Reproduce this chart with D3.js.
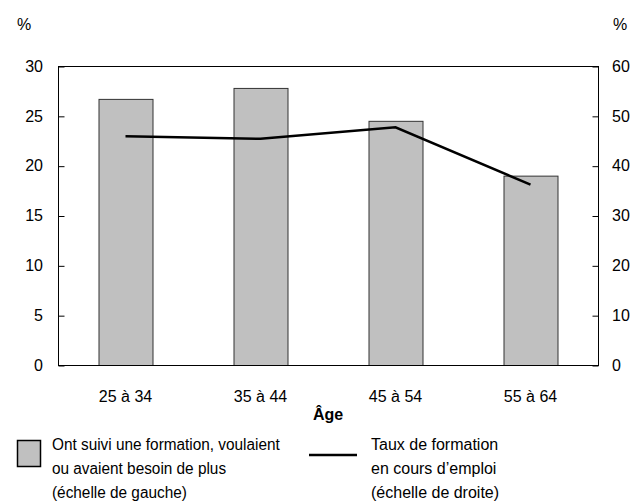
<!DOCTYPE html>
<html>
<head>
<meta charset="utf-8">
<script src="https://cdn.jsdelivr.net/npm/d3@7"></script>
<style>
  body { margin: 0; background: #fff; }
  text { font-family: "Liberation Sans", Arial, sans-serif; fill: #000; font-size: 16px; }
</style>
</head>
<body>
<div id="chart"></div>
<script>
var categories = ["25 à 34", "35 à 44", "45 à 54", "55 à 64"];
var barValues = [26.7, 27.8, 24.5, 19.0];   // échelle de gauche
var lineValues = [45.9, 45.4, 47.7, 36.2];  // échelle de droite
var leftTicks = [0, 5, 10, 15, 20, 25, 30];
var rightTicks = [0, 10, 20, 30, 40, 50, 60];

var W = 633, H = 504;
var margin = { top: 66, left: 58, right: 35, bottom: 139 };
var width = W - margin.left - margin.right,
    height = H - margin.top - margin.bottom;

var svg = d3.select("#chart").append("svg")
  .attr("width", W)
  .attr("height", H);

var g = svg.append("g")
  .attr("transform", "translate(" + margin.left + "," + margin.top + ")");

var x = d3.scaleBand().domain(categories).range([0, width]).paddingInner(0.6).paddingOuter(0.3);
var yLeft = d3.scaleLinear().domain([0, 30]).range([height, 0]);
var yRight = d3.scaleLinear().domain([0, 60]).range([height, 0]);

// bars
g.selectAll(".bar")
  .data(barValues)
  .enter().append("rect")
  .attr("class", "bar")
  .attr("x", function(d, i) { return x(categories[i]) + 0.5; })
  .attr("y", function(d) { return yLeft(d) + 0.5; })
  .attr("width", x.bandwidth())
  .attr("height", function(d) { return height - yLeft(d); })
  .attr("fill", "#c0c0c0")
  .attr("stroke", "#333")
  .attr("stroke-width", 1);

// frame
g.append("rect")
  .attr("x", 0.5).attr("y", 0.5)
  .attr("width", width).attr("height", height)
  .attr("fill", "none")
  .attr("stroke", "#000")
  .attr("stroke-width", 1);

// left axis, ticks pointing inward
var leftAxis = g.append("g")
  .attr("transform", "translate(0.5,0.5)")
  .call(d3.axisRight(yLeft).tickValues(leftTicks).tickSize(6).tickFormat(""));
leftAxis.select(".domain").remove();
g.selectAll(".ltick")
  .data(leftTicks)
  .enter().append("text")
  .attr("x", -15)
  .attr("y", function(d) { return yLeft(d); })
  .attr("dy", "0.36em")
  .attr("text-anchor", "end")
  .text(function(d) { return d; });

// right axis
var rightAxis = g.append("g")
  .attr("transform", "translate(" + (width + 0.5) + ",0.5)")
  .call(d3.axisLeft(yRight).tickValues(rightTicks).tickSize(6).tickFormat(""));
rightAxis.select(".domain").remove();
g.selectAll(".rtick")
  .data(rightTicks)
  .enter().append("text")
  .attr("x", width + 14)
  .attr("y", function(d) { return yRight(d); })
  .attr("dy", "0.36em")
  .attr("text-anchor", "start")
  .text(function(d) { return d; });

// line
var line = d3.line()
  .x(function(d, i) { return x(categories[i]) + x.bandwidth() / 2; })
  .y(function(d) { return yRight(d); });

g.append("path")
  .datum(lineValues)
  .attr("d", line)
  .attr("fill", "none")
  .attr("stroke", "#000")
  .attr("stroke-width", 2.5);

// category labels
g.selectAll(".cat")
  .data(categories)
  .enter().append("text")
  .attr("x", function(d) { return x(d) + x.bandwidth() / 2; })
  .attr("y", height + 37)
  .attr("text-anchor", "middle")
  .text(function(d) { return d; });

g.append("text")
  .attr("x", width / 2)
  .attr("y", height + 55)
  .attr("text-anchor", "middle")
  .style("font-weight", "bold")
  .text("Âge");

// % labels
svg.append("text").attr("x", 17).attr("y", 30).text("%");
svg.append("text").attr("x", 613).attr("y", 30).text("%");

// legend
var legend = svg.append("g");
legend.append("rect")
  .attr("x", 17.5).attr("y", 440.5)
  .attr("width", 23).attr("height", 26)
  .attr("fill", "#c0c0c0")
  .attr("stroke", "#000")
  .attr("stroke-width", 1.5);
var leftLines = ["Ont suivi une formation, voulaient", "ou avaient besoin de plus", "(échelle de gauche)"];
legend.selectAll(".l1")
  .data(leftLines)
  .enter().append("text")
  .attr("x", 52)
  .attr("y", function(d, i) { return 450 + i * 24; })
  .attr("transform", "translate(52,0) scale(0.96,1) translate(-52,0)")
  .text(function(d) { return d; });

legend.append("line")
  .attr("x1", 309).attr("x2", 357)
  .attr("y1", 455).attr("y2", 455)
  .attr("stroke", "#000")
  .attr("stroke-width", 2.5);
var rightLines = ["Taux de formation", "en cours d’emploi", "(échelle de droite)"];
legend.selectAll(".l2")
  .data(rightLines)
  .enter().append("text")
  .attr("x", 371)
  .attr("y", function(d, i) { return 450 + i * 24; })
  .text(function(d) { return d; });
</script>
</body>
</html>
